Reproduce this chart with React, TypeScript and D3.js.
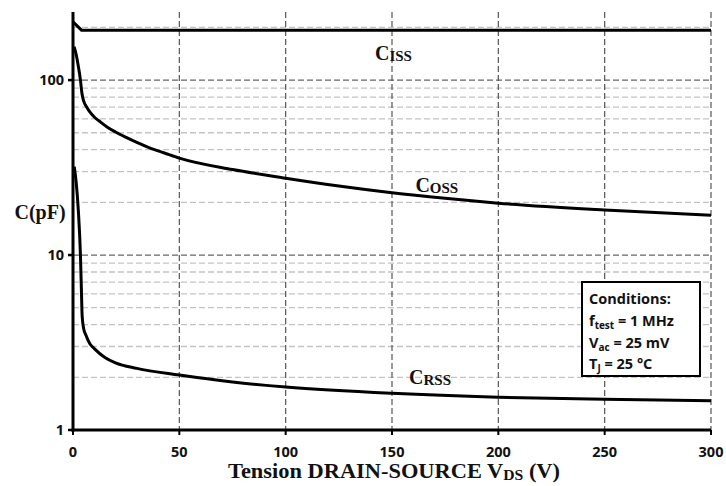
import React from "react";
import * as d3 from "d3";

const W = 726;
const H = 486;

// Data (V in volts, C in pF)
const cissV = [0, 4, 300];
const cissC = [215, 193, 193];

const cossV = [0.5, 1.5, 2.5, 3.5, 4.2, 5, 6.5, 8, 10, 13, 16, 20, 25, 30, 36, 43, 50, 75, 100, 125, 150, 175, 200, 250, 300];
const cossC = [155, 140, 120, 100, 84, 76, 70, 65.5, 61.5, 57.5, 54, 50.5, 47, 44, 41, 38.3, 35.8, 30.8, 27.5, 24.8, 22.7, 21.1, 19.8, 18.1, 16.9];

const crssV = [0.6, 1.5, 2.5, 3.5, 4, 4.3, 5, 6, 8, 10, 15, 20, 30, 50, 75, 100, 150, 200, 250, 300];
const crssC = [32, 26, 18, 10, 6, 4.5, 3.8, 3.5, 3.1, 2.92, 2.6, 2.42, 2.25, 2.06, 1.88, 1.76, 1.62, 1.54, 1.5, 1.47];

const xTicks = [0, 50, 100, 150, 200, 250, 300];
const yTicks = [1, 10, 100];
const yMinorGrid = [2, 3, 4, 5, 6, 7, 8, 9, 20, 30, 40, 50, 60, 70, 80, 90, 200];
const yMajorGrid = [10, 100];

const curveLabels = [
  { sub: "ISS", v: 142, c: 130 },
  { sub: "OSS", v: 161, c: 22.9 },
  { sub: "RSS", v: 158, c: 1.82 },
];

const conditions = [
  { main: "f", sub: "test", rest: " = 1 MHz" },
  { main: "V", sub: "ac", rest: " = 25 mV" },
  { main: "T", sub: "J", rest: " = 25 °C" },
];

export default function App() {
  const x = d3.scaleLinear().domain([0, 300]).range([73, 711]);
  const y = d3.scaleLog().domain([1, 245]).range([430, 12]);

  const zip = (vs: number[], cs: number[]) => vs.map((v, i) => [v, cs[i]] as [number, number]);
  const smooth = d3
    .line<[number, number]>()
    .x((d) => x(d[0]))
    .y((d) => y(d[1]))
    .curve(d3.curveMonotoneX);
  const straight = d3
    .line<[number, number]>()
    .x((d) => x(d[0]))
    .y((d) => y(d[1]));

  const serif = "'Liberation Serif', 'Times New Roman', serif";
  const sans = "'Open Sans', 'Liberation Sans', sans-serif";

  return (
    <svg
      width={W}
      height={H}
      style={{ position: "absolute", left: 0, top: 0, background: "#fff" }}
    >
      {/* horizontal minor grid */}
      {yMinorGrid.map((v) => (
        <line
          key={"mg" + v}
          x1={x(0)}
          x2={x(300)}
          y1={y(v)}
          y2={y(v)}
          stroke="#c4c4c4"
          strokeWidth={1.3}
          strokeDasharray="6,3"
        />
      ))}
      {yMajorGrid.map((v) => (
        <line
          key={"Mg" + v}
          x1={x(0)}
          x2={x(300)}
          y1={y(v)}
          y2={y(v)}
          stroke="#666"
          strokeWidth={1.3}
          strokeDasharray="6,3"
        />
      ))}
      {/* vertical grid */}
      {xTicks.slice(1).map((v) => (
        <line
          key={"vg" + v}
          x1={x(v)}
          x2={x(v)}
          y1={12}
          y2={y(1)}
          stroke="#555"
          strokeWidth={1.2}
          strokeDasharray="6,3"
        />
      ))}

      {/* curves */}
      <path d={straight(zip(cissV, cissC)) || ""} fill="none" stroke="#000" strokeWidth={3} />
      <path d={smooth(zip(cossV, cossC)) || ""} fill="none" stroke="#000" strokeWidth={3} />
      <path d={smooth(zip(crssV, crssC)) || ""} fill="none" stroke="#000" strokeWidth={3} />

      {/* axes */}
      <line x1={x(0)} x2={x(0)} y1={12} y2={y(1) + 1.5} stroke="#000" strokeWidth={3} />
      <line x1={x(0) - 1.5} x2={x(300)} y1={y(1)} y2={y(1)} stroke="#000" strokeWidth={3} />
      {yTicks.map((v) => (
        <g key={"yt" + v}>
          <line x1={x(0) - 5} x2={x(0)} y1={y(v)} y2={y(v)} stroke="#000" strokeWidth={2.5} />
          <text
            x={x(0) - 9}
            y={y(v)}
            dy="0.36em"
            textAnchor="end"
            fontFamily={sans}
            fontWeight="bold"
            fontSize={14.5}
            fill="#111"
          >
            {v}
          </text>
        </g>
      ))}
      {xTicks.map((v) => (
        <g key={"xt" + v}>
          <line x1={x(v)} x2={x(v)} y1={y(1)} y2={y(1) + 5} stroke="#000" strokeWidth={2} />
          <text
            x={x(v)}
            y={y(1) + 27}
            textAnchor="middle"
            fontFamily={sans}
            fontWeight="bold"
            fontSize={14.5}
            fill="#111"
          >
            {v}
          </text>
        </g>
      ))}

      {/* axis titles */}
      <text x={40} y={219} textAnchor="middle" fontFamily={serif} fontWeight="bold" fontSize={20} fill="#111">
        C(pF)
      </text>
      <text
        x={228}
        y={478}
        textLength={332}
        lengthAdjust="spacingAndGlyphs"
        fontFamily={serif}
        fontWeight="bold"
        fontSize={20}
        fill="#111"
      >
        Tension DRAIN-SOURCE V
        <tspan fontSize={14} dy={2}>DS</tspan>
        <tspan dy={-2}> (V)</tspan>
      </text>

      {/* curve labels */}
      {curveLabels.map((l) => (
        <text
          key={l.sub}
          x={x(l.v)}
          y={y(l.c)}
          fontFamily={serif}
          fontWeight="bold"
          fontSize={20}
          fill="#111"
        >
          C<tspan fontSize={15} dy={1}>{l.sub}</tspan>
        </text>
      ))}

      {/* conditions box */}
      <rect x={582} y={282} width={118} height={94} fill="#fff" stroke="#000" strokeWidth={2} />
      <text x={589} y={304} fontFamily={sans} fontWeight="bold" fontSize={14.5} fill="#111">
        Conditions:
      </text>
      {conditions.map((c, i) => (
        <text key={c.main} x={589} y={326 + i * 21.5} fontFamily={sans} fontWeight="bold" fontSize={14.5} fill="#111">
          {c.main}
          <tspan fontSize={10} dy={3}>{c.sub}</tspan>
          <tspan dy={-3}>{c.rest}</tspan>
        </text>
      ))}
    </svg>
  );
}
